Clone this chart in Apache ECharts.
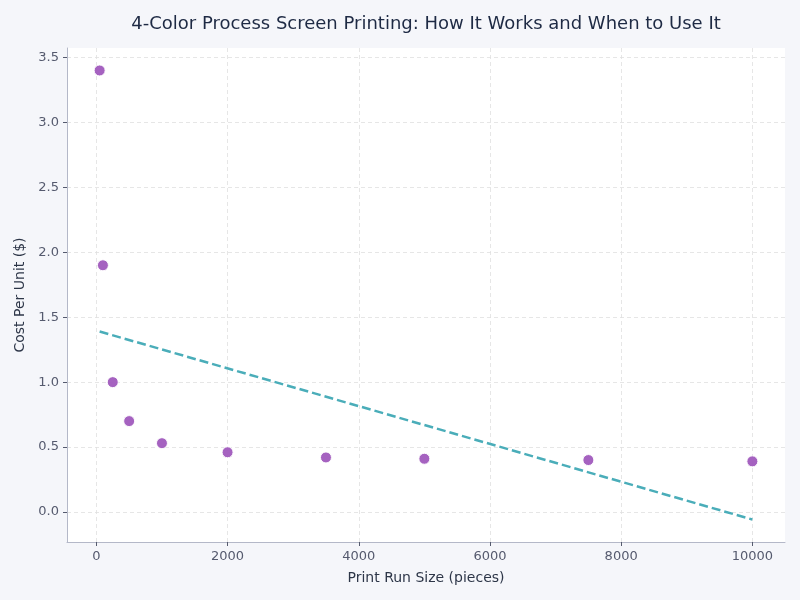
<!DOCTYPE html>
<html>
<head>
<meta charset="utf-8">
<script src="https://cdn.jsdelivr.net/npm/echarts@6/dist/echarts.min.js"></script>
<style>
html, body { margin: 0; padding: 0; background: #f5f6fa; }
#main { width: 800px; height: 600px; }
</style>
</head>
<body>
<div id="main"></div>
<script>
// print run size (pieces) and cost per unit ($)
var runSizes = [50, 100, 250, 500, 1000, 2000, 3500, 5000, 7500, 10000];
var unitCosts = [3.40, 1.90, 1.00, 0.70, 0.53, 0.46, 0.42, 0.41, 0.40, 0.39];
// trend line end points
var trendX = [50, 10000];
var trendY = [1.39, -0.058];
var xTicks = [0, 2000, 4000, 6000, 8000, 10000];
var yTicks = [0, 0.5, 1.0, 1.5, 2.0, 2.5, 3.0, 3.5];

var font = 'DejaVu Sans';
var points = runSizes.map(function (x, i) { return [x, unitCosts[i]]; });
var trend = trendX.map(function (x, i) { return [x, trendY[i]]; });

var option = {
    backgroundColor: '#f5f6fa',
    animation: false,
    title: {
        text: '4-Color Process Screen Printing: How It Works and When to Use It',
        left: 421,
        top: 10,
        textAlign: 'center',
        textStyle: { fontFamily: font, fontSize: 18, fontWeight: 'normal', color: '#1e2a44' }
    },
    grid: {
        left: 67, right: 15, top: 48, bottom: 58,
        show: true, backgroundColor: '#ffffff', borderWidth: 0
    },
    xAxis: {
        type: 'value',
        min: -447.5,
        max: 10497.5,
        name: 'Print Run Size (pieces)',
        nameLocation: 'middle',
        nameGap: 29,
        nameTextStyle: { fontFamily: font, fontSize: 14, color: '#2d3648' },
        axisLine: { onZero: false, lineStyle: { color: '#b4b8c8', width: 1 } },
        axisTick: { customValues: xTicks, length: 4, lineStyle: { color: '#555a6e' } },
        axisLabel: {
            customValues: xTicks, fontFamily: font, fontSize: 13, color: '#555a6e', margin: 8,
            formatter: function (v) { return String(v); }
        },
        splitLine: { show: true, lineStyle: { color: '#e0e0e0', type: [4, 3], width: 0.8 } }
    },
    yAxis: {
        type: 'value',
        min: -0.231,
        max: 3.573,
        name: 'Cost Per Unit ($)',
        nameLocation: 'middle',
        nameGap: 40,
        nameTextStyle: { fontFamily: font, fontSize: 14, color: '#2d3648' },
        axisLine: { show: true, onZero: false, lineStyle: { color: '#b4b8c8', width: 1 } },
        axisTick: { show: true, customValues: yTicks, length: 4, lineStyle: { color: '#555a6e' } },
        axisLabel: {
            customValues: yTicks, fontFamily: font, fontSize: 13, color: '#555a6e', margin: 8,
            formatter: function (v) { return v.toFixed(1); }
        },
        splitLine: { show: true, lineStyle: { color: '#e0e0e0', type: [4, 3], width: 0.8 } }
    },
    series: [
        {
            name: 'Cost per unit',
            type: 'scatter',
            data: points,
            symbolSize: 11,
            itemStyle: { color: '#a05abd', borderColor: '#ffffff', borderWidth: 1, opacity: 0.95 },
            z: 3
        },
        {
            name: 'Trend',
            type: 'line',
            data: trend,
            symbol: 'none',
            lineStyle: { color: '#4aadb9', width: 2.5, type: [9, 4] },
            z: 2
        }
    ]
};

var myChart = echarts.init(document.getElementById('main'));
myChart.setOption(option);
</script>
</body>
</html>
